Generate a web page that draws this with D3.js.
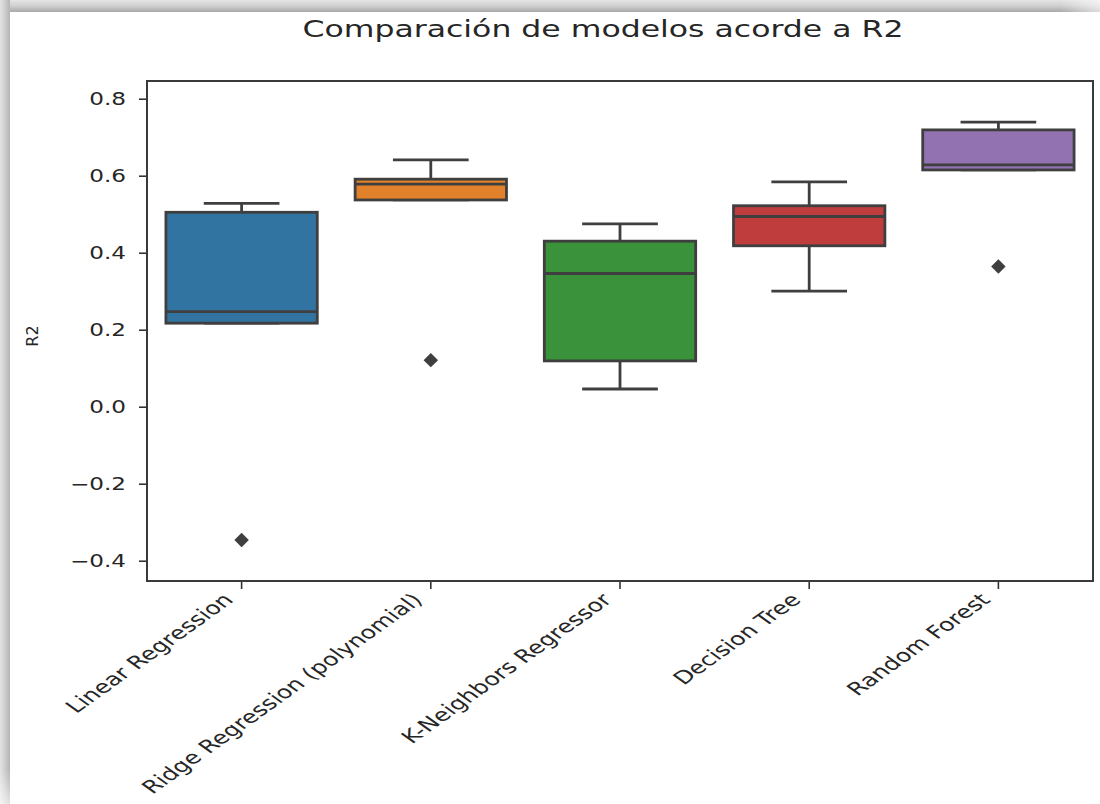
<!DOCTYPE html>
<html>
<head>
<meta charset="utf-8">
<script src="https://cdn.jsdelivr.net/npm/d3@7"></script>
<style>
  html, body { margin: 0; padding: 0; background: #ffffff; }
  svg { display: block; }
  text { font-family: "DejaVu Sans", sans-serif; fill: #262626; }
</style>
</head>
<body>
<svg id="chart" width="1100" height="804"></svg>
<script>
// Model comparison data (R2 scores summary per model)
const categories = ["Linear Regression", "Ridge Regression (polynomial)", "K-Neighbors Regressor", "Decision Tree", "Random Forest"];
const whiskerLow  = [0.217, 0.537, 0.046, 0.300, 0.615];
const q1Values    = [0.217, 0.537, 0.119, 0.418, 0.615];
const medianVals  = [0.247, 0.578, 0.346, 0.494, 0.628];
const q3Values    = [0.505, 0.591, 0.430, 0.522, 0.719];
const whiskerHigh = [0.528, 0.641, 0.475, 0.584, 0.739];
const outliers    = [[-0.346], [0.121], [], [], [0.364]];
const boxColors   = ["#3274a1", "#e1812c", "#3a923a", "#c03d3e", "#9372b2"];
const yTicks      = [-0.4, -0.2, 0.0, 0.2, 0.4, 0.6, 0.8];
const chartTitle  = "Comparación de modelos acorde a R2";
const yLabel      = "R2";

const svg = d3.select("#chart");
const W = 1100, H = 804;
const lineCol = "#3f3f3f";

// ---- card shadow frame ----
const defs = svg.append("defs");
const gTop = defs.append("linearGradient").attr("id", "gTop").attr("x1", 0).attr("y1", 0).attr("x2", 0).attr("y2", 1);
gTop.append("stop").attr("offset", "0%").attr("stop-color", "#e4e4e4");
gTop.append("stop").attr("offset", "45%").attr("stop-color", "#d2d2d2");
gTop.append("stop").attr("offset", "100%").attr("stop-color", "#a9a9a9");
const gLeft = defs.append("linearGradient").attr("id", "gLeft").attr("x1", 0).attr("y1", 0).attr("x2", 1).attr("y2", 0);
gLeft.append("stop").attr("offset", "0%").attr("stop-color", "#e4e4e4");
gLeft.append("stop").attr("offset", "45%").attr("stop-color", "#d0d0d0");
gLeft.append("stop").attr("offset", "100%").attr("stop-color", "#b4b4b4");
const gFadeR = defs.append("linearGradient").attr("id", "gFadeR").attr("x1", 0).attr("y1", 0).attr("x2", 1).attr("y2", 0);
gFadeR.append("stop").attr("offset", "0%").attr("stop-color", "#fff").attr("stop-opacity", 0);
gFadeR.append("stop").attr("offset", "100%").attr("stop-color", "#fff").attr("stop-opacity", 0.6);
const gFadeB = defs.append("linearGradient").attr("id", "gFadeB").attr("x1", 0).attr("y1", 0).attr("x2", 0).attr("y2", 1);
gFadeB.append("stop").attr("offset", "0%").attr("stop-color", "#fff").attr("stop-opacity", 0);
gFadeB.append("stop").attr("offset", "100%").attr("stop-color", "#fff").attr("stop-opacity", 0.6);

svg.append("rect").attr("x", 0).attr("y", 0).attr("width", W).attr("height", H).attr("fill", "#ffffff");
svg.append("rect").attr("x", 0).attr("y", 0).attr("width", W).attr("height", 12).attr("fill", "url(#gTop)");
svg.append("rect").attr("x", 0).attr("y", 0).attr("width", 10).attr("height", H).attr("fill", "url(#gLeft)");
svg.append("rect").attr("x", 1060).attr("y", 0).attr("width", 40).attr("height", 12).attr("fill", "url(#gFadeR)");
svg.append("rect").attr("x", 0).attr("y", 770).attr("width", 10).attr("height", 34).attr("fill", "url(#gFadeB)");

// ---- scales ----
const plot = { left: 147, right: 1093, top: 81, bottom: 581 };
const x = d3.scaleBand().domain(categories).range([plot.left, plot.right]).paddingInner(0).paddingOuter(0);
const y = d3.scaleLinear().domain([-0.4527, 0.846]).range([plot.bottom, plot.top]);

// ---- title ----
svg.append("text")
  .attr("transform", `translate(603,37) scale(1.37,1)`)
  .attr("text-anchor", "middle")
  .attr("font-size", 23)
  .text(chartTitle);

// ---- y axis ----
const fmt = d => d3.format(".1f")(d).replace("-", "\u2212");
const yAxis = svg.append("g").attr("transform", `translate(${plot.left},0)`)
  .call(d3.axisLeft(y).tickValues(yTicks).tickSize(8).tickPadding(0).tickFormat(fmt));
yAxis.select(".domain").remove();
yAxis.selectAll(".tick line").attr("stroke", "#333").attr("stroke-width", 1.6);
yAxis.selectAll(".tick text").remove();
yAxis.selectAll(".tick").append("text")
  .attr("transform", `translate(-21,0) scale(1.36,1)`)
  .attr("text-anchor", "end")
  .attr("dy", "0.36em")
  .attr("font-size", 17)
  .attr("fill", "#262626")
  .text(fmt);

// ---- x axis ----
const xAxis = svg.append("g").attr("transform", `translate(0,${plot.bottom})`)
  .call(d3.axisBottom(x).tickSize(8).tickPadding(0));
xAxis.select(".domain").remove();
xAxis.selectAll(".tick line").attr("stroke", "#333").attr("stroke-width", 1.6);
xAxis.selectAll(".tick text").remove();
xAxis.selectAll(".tick").append("text")
  .attr("transform", `translate(-7,20) scale(1.4,1) rotate(-45)`)
  .attr("text-anchor", "end")
  .attr("font-size", 18)
  .attr("fill", "#262626")
  .text(d => d);

// ---- y label ----
svg.append("text")
  .attr("transform", `translate(38,336) rotate(-90)`)
  .attr("text-anchor", "middle")
  .attr("font-size", 16)
  .text(yLabel);

// ---- boxes ----
const boxW = x.bandwidth() * 0.8;
const capW = boxW * 0.5;
const data = categories.map((c, i) => ({
  cat: c, lo: whiskerLow[i], q1: q1Values[i], med: medianVals[i], q3: q3Values[i], hi: whiskerHigh[i],
  out: outliers[i], color: boxColors[i]
}));

const groups = svg.append("g").selectAll("g.box").data(data).join("g").attr("class", "box");
groups.each(function (d) {
  const g = d3.select(this);
  const cx = x(d.cat) + x.bandwidth() / 2;
  // whiskers
  g.append("line").attr("x1", cx).attr("x2", cx).attr("y1", y(d.q3)).attr("y2", y(d.hi))
    .attr("stroke", lineCol).attr("stroke-width", 2.8);
  g.append("line").attr("x1", cx).attr("x2", cx).attr("y1", y(d.q1)).attr("y2", y(d.lo))
    .attr("stroke", lineCol).attr("stroke-width", 2.8);
  // caps
  [d.hi, d.lo].forEach(v => {
    g.append("line").attr("x1", cx - capW / 2).attr("x2", cx + capW / 2).attr("y1", y(v)).attr("y2", y(v))
      .attr("stroke", lineCol).attr("stroke-width", 2.8);
  });
  // box
  g.append("rect").attr("x", cx - boxW / 2).attr("width", boxW)
    .attr("y", y(d.q3)).attr("height", y(d.q1) - y(d.q3))
    .attr("fill", d.color).attr("stroke", lineCol).attr("stroke-width", 2.8);
  // median
  g.append("line").attr("x1", cx - boxW / 2).attr("x2", cx + boxW / 2).attr("y1", y(d.med)).attr("y2", y(d.med))
    .attr("stroke", lineCol).attr("stroke-width", 2.8);
  // outliers as diamonds
  g.selectAll("path.flier").data(d.out).join("path").attr("class", "flier")
    .attr("d", d3.symbol().type(d3.symbolSquare).size(105))
    .attr("transform", v => `translate(${cx},${y(v)}) rotate(45)`)
    .attr("fill", lineCol);
});

// ---- plot frame ----
svg.append("rect")
  .attr("x", plot.left).attr("y", plot.top)
  .attr("width", plot.right - plot.left).attr("height", plot.bottom - plot.top)
  .attr("fill", "none").attr("stroke", "#3a3a3a").attr("stroke-width", 2);
</script>
</body>
</html>
